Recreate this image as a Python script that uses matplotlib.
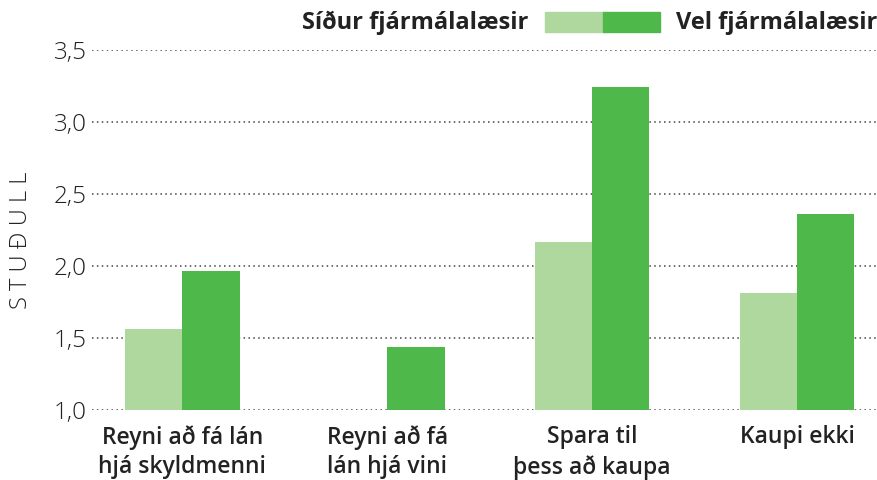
import numpy as np
import matplotlib
matplotlib.use("Agg")
import matplotlib.pyplot as plt

# data
categories = ["Reyni að fá lán\nhjá skyldmenni", "Reyni að fá\nlán hjá vini",
              "Spara til\nþess að kaupa", "Kaupi ekki"]
sidur = [1.56, 1.0, 2.17, 1.81]   # Síður fjármálalæsir
vel = [1.965, 1.44, 3.24, 2.36]   # Vel fjármálalæsir
yticks = [1.0, 1.5, 2.0, 2.5, 3.0, 3.5]
ytick_labels = ["1,0", "1,5", "2,0", "2,5", "3,0", "3,5"]

light = "#afd89e"
dark = "#4fb84a"

plt.rcParams['font.family'] = ['Open Sans', 'DejaVu Sans']

fig = plt.figure(figsize=(8.77, 4.8), dpi=100)
ax = fig.add_axes([92/877, 1-410/480, 1-92/877, 360/480])

x = np.arange(len(categories))
w = 0.28
ax.bar(x - w/2, np.array(sidur) - 1.0, w, bottom=1.0, color=light, zorder=3)
ax.bar(x + w/2, np.array(vel) - 1.0, w, bottom=1.0, color=dark, zorder=3)

ax.set_ylim(1.0, 3.5)
ax.set_xlim(-0.44, 3.39)
ax.set_yticks(yticks)
ax.set_yticklabels(ytick_labels, fontsize=17.5, fontweight='light', color='#222222')
ax.set_xticks(x)
ax.set_xticklabels(categories, fontsize=16.5, fontweight='semibold', color='#222222',
                   linespacing=1.3)
ax.tick_params(length=0, pad=4)
ax.tick_params(axis='x', pad=11)
for s in ax.spines.values():
    s.set_visible(False)
ax.grid(axis='y', linestyle=(0, (1, 2.2)), linewidth=1.1, color='#444444', zorder=1)
ax.set_axisbelow(True)

fig.text(21/877, 1-240/480, "S T U Ð U L L", rotation=90, fontsize=17,
         fontweight='light', color='#222222', ha='center', va='center')

# legend
fig.text(528/877, 1-23/480, "Síður fjármálalæsir", fontsize=17, fontweight='bold',
         ha='right', va='center', color='#222222')
fig.patches.append(plt.Rectangle((545/877, 1-32/480), 58/877, 20/480,
                                 transform=fig.transFigure, color=light))
fig.patches.append(plt.Rectangle((603/877, 1-32/480), 57/877, 20/480,
                                 transform=fig.transFigure, color=dark))
fig.text(676/877, 1-23/480, "Vel fjármálalæsir", fontsize=17, fontweight='bold',
         ha='left', va='center', color='#222222')

fig.savefig("out.png", dpi=100)
